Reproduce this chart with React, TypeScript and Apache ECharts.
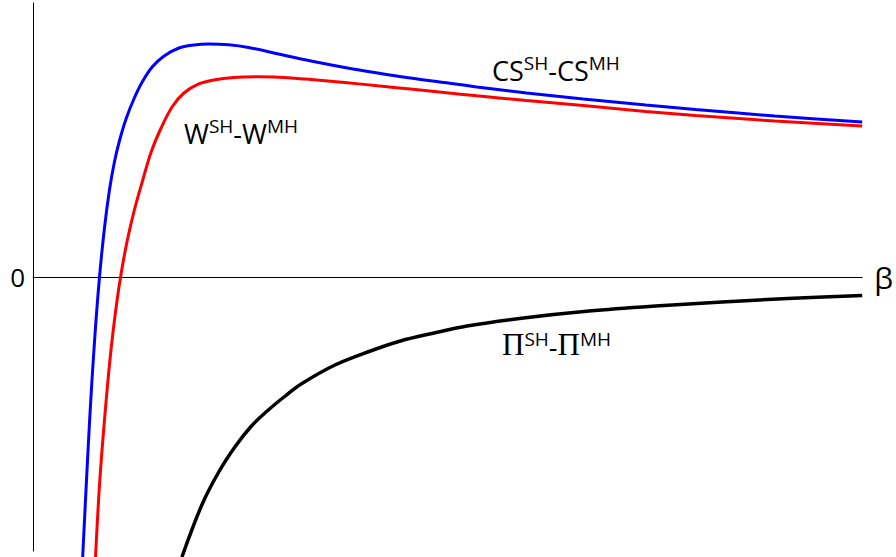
import React, { useEffect, useRef } from "react";
import * as echarts from "echarts";

// β positions (0–100 across the axis) and differences (axis spans -100…100)
const csBeta = [5.99, 6.83, 7.43, 8.02, 8.62, 9.22, 9.82, 10.42, 11.26, 12.22, 13.17, 14.37, 15.81, 17.6, 19.4, 21.2, 23.59, 25.99, 29.58, 33.53, 37.6, 41.56, 45.51, 49.58, 53.53, 59.52, 66.35, 73.89, 79.88, 89.46, 100];
const csDiff = [-102.19, -52.19, -22.99, 0, 17.88, 31.75, 41.97, 49.64, 58.03, 65.33, 71.17, 76.64, 80.66, 83.58, 84.67, 85.04, 84.74, 83.76, 81.39, 78.83, 76.46, 74.45, 72.63, 70.99, 69.34, 67.15, 64.96, 62.77, 61.13, 58.76, 56.57];

const wBeta = [7.54, 8.02, 8.62, 9.34, 10.06, 10.66, 11.38, 12.22, 13.17, 14.25, 15.45, 16.77, 18.2, 20.0, 21.8, 24.19, 27.19, 29.58, 33.53, 37.6, 41.56, 45.51, 49.58, 53.53, 59.52, 66.35, 73.89, 79.88, 89.46, 100];
const wDiff = [-102.19, -75.91, -52.19, -28.47, -10.22, 1.82, 13.5, 24.45, 34.67, 45.62, 54.38, 62.04, 67.15, 70.44, 71.9, 72.81, 73.07, 72.92, 72.08, 70.99, 69.78, 68.61, 67.34, 66.13, 64.42, 62.59, 60.4, 58.94, 56.93, 55.11];

const piBeta = [17.96, 20.36, 22.4, 24.43, 26.35, 28.38, 30.42, 32.34, 36.41, 40.36, 44.31, 48.38, 52.34, 59.16, 67.07, 75.09, 83.11, 91.02, 100];
const piDiff = [-102.19, -83.21, -71.17, -61.68, -54.38, -48.54, -43.43, -39.05, -32.12, -27.37, -23.36, -20.44, -17.88, -14.96, -12.41, -10.58, -9.12, -7.85, -6.75];

const yTicks = [-100, 0, 100];

const pairs = (xs: number[], ys: number[]) => xs.map((x, i) => [x, ys[i]]);

const SANS = "'Open Sans', 'Noto Sans', sans-serif";
const SERIF = "'Liberation Serif', 'DejaVu Serif', serif";

const richStyles = {
  m: { fontSize: 27, fontFamily: SANS, color: "#000", lineHeight: 31, verticalAlign: "bottom" },
  s: { fontSize: 19, fontFamily: SANS, color: "#000", lineHeight: 31, verticalAlign: "top" },
  p: { fontSize: 31, fontFamily: SERIF, color: "#000", lineHeight: 31, verticalAlign: "bottom" },
};

export default function App() {
  const ref = useRef<HTMLDivElement>(null);

  useEffect(() => {
    if (!ref.current) return;
    const chart = echarts.init(ref.current, null, { renderer: "svg" });
    const line = (name: string, data: number[][], color: string, width: number) => ({
      name,
      type: "line",
      data,
      showSymbol: false,
      smooth: 0.35,
      clip: false,
      lineStyle: { color, width },
      silent: true,
    });
    chart.setOption({
      animation: false,
      backgroundColor: "#fff",
      grid: { left: 33, right: 28, top: 3, bottom: 6 },
      xAxis: {
        type: "value",
        min: 0,
        max: 100,
        name: "β",
        nameLocation: "end",
        nameGap: 12,
        nameTextStyle: { fontSize: 30, fontFamily: SANS, color: "#000" },
        axisLine: { onZero: true, lineStyle: { color: "#000", width: 1 } },
        axisTick: { show: false },
        axisLabel: { show: false },
        splitLine: { show: false },
      },
      yAxis: {
        type: "value",
        min: yTicks[0],
        max: yTicks[yTicks.length - 1],
        interval: 100,
        axisLine: { show: true, lineStyle: { color: "#000", width: 1 } },
        axisTick: { show: false },
        splitLine: { show: false },
        axisLabel: {
          margin: 8,
          fontSize: 26,
          fontFamily: SANS,
          color: "#000",
          formatter: (v: number) => (v === 0 ? "0" : ""),
        },
      },
      series: [
        line("CS", pairs(csBeta, csDiff), "#0000ff", 3),
        line("W", pairs(wBeta, wDiff), "#ff0000", 3),
        line("Pi", pairs(piBeta, piDiff), "#000000", 3.5),
      ],
      graphic: [
        {
          type: "text",
          x: 492,
          y: 53,
          silent: true,
          style: { text: "{m|CS}{s|SH}{m|-CS}{s|MH}", rich: richStyles },
        },
        {
          type: "text",
          x: 184,
          y: 116,
          silent: true,
          style: { text: "{m|W}{s|SH}{m|-W}{s|MH}", rich: richStyles },
        },
        {
          type: "text",
          x: 502,
          y: 329,
          silent: true,
          style: { text: "{p|Π}{s|SH}{m|-}{p|Π}{s|MH}", rich: richStyles },
        },
      ],
    });
    return () => chart.dispose();
  }, []);

  return (
    <div
      ref={ref}
      style={{ position: "fixed", left: 0, top: 0, width: 896, height: 557, background: "#fff" }}
    />
  );
}
